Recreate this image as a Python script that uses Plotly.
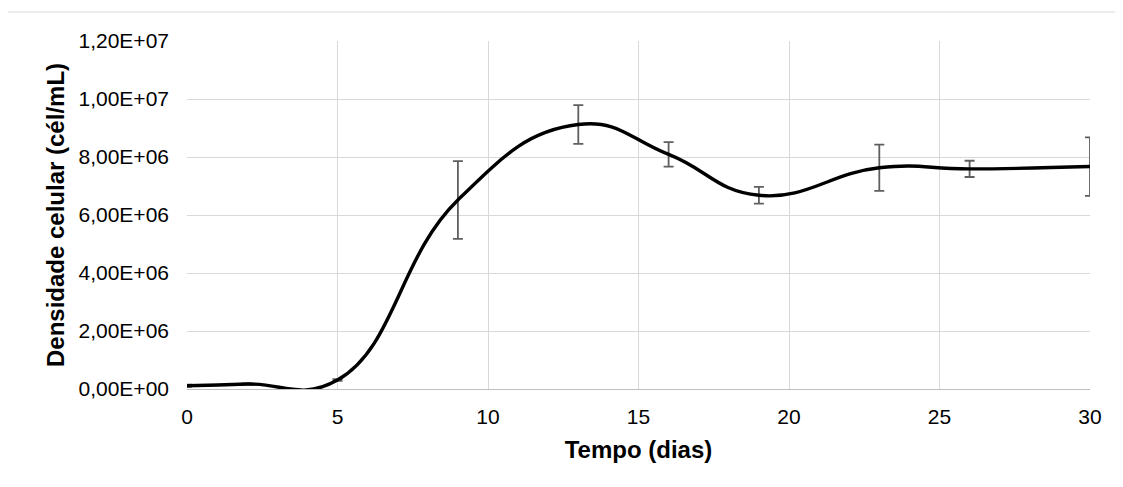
import plotly.graph_objects as go

# Data
days = [0, 2, 5, 9, 13, 16, 19, 23, 26, 30]
density = [1.1e5, 1.7e5, 3.1e5, 6.52e6, 9.12e6, 8.09e6, 6.68e6, 7.63e6, 7.59e6, 7.67e6]
density_err = [4e4, 2e4, 3e4, 1.34e6, 0.67e6, 0.42e6, 0.29e6, 0.80e6, 0.28e6, 1.01e6]

y_tickvals = [0, 2e6, 4e6, 6e6, 8e6, 1e7, 1.2e7]
y_ticktext = ["0,00E+00", "2,00E+06", "4,00E+06", "6,00E+06", "8,00E+06", "1,00E+07", "1,20E+07"]
x_tickvals = [0, 5, 10, 15, 20, 25, 30]

FONT = "Liberation Sans, Arial, sans-serif"
GRID = "#d9d9d9"

fig = go.Figure()

# error bars (drawn beneath the line)
fig.add_trace(go.Scatter(
    x=days, y=density, mode="markers",
    marker=dict(size=1, opacity=0),
    error_y=dict(type="data", array=density_err, visible=True,
                 color="#5f5f5f", thickness=1.8, width=5),
    showlegend=False, hoverinfo="skip",
))

# smoothed line
fig.add_trace(go.Scatter(
    x=days, y=density, mode="lines",
    line=dict(color="#000000", width=3.4, shape="spline", smoothing=1.3),
    showlegend=False,
))

# the page body has an 8px margin, compensated here
fig.update_layout(
    width=1123, height=487,
    paper_bgcolor="white", plot_bgcolor="white",
    margin=dict(l=179, r=41, t=33, b=106, autoexpand=False),
    font=dict(family=FONT, color="#000000"),
    showlegend=False,
    shapes=[dict(type="rect", xref="paper", yref="paper",
                 x0=-0.1993, x1=1.06, y0=-0.35, y1=1.0833,
                 line=dict(color="#d9d9d9", width=1.2), layer="below")],
)

fig.update_xaxes(
    range=[0, 30], tickvals=x_tickvals,
    showgrid=True, gridcolor=GRID, gridwidth=1.3,
    showline=True, linecolor="#bfbfbf", linewidth=1.3,
    zeroline=False, ticks="", ticklabelstandoff=9,
    tickfont=dict(size=21, family=FONT, color="#000000"),
    title=dict(text="<b>Tempo (dias)</b>", font=dict(size=24, family=FONT, color="#000000"), standoff=13),
    automargin=False,
)

fig.update_yaxes(
    range=[0, 1.2e7], tickvals=y_tickvals, ticktext=y_ticktext,
    showgrid=True, gridcolor=GRID, gridwidth=1.3,
    showline=False, zeroline=False, ticks="", ticklabelstandoff=17,
    tickfont=dict(size=21, family=FONT, color="#000000"),
    title=dict(text="<b>Densidade celular (cél/mL)</b>", font=dict(size=24, family=FONT, color="#000000"), standoff=7),
    automargin=False,
)

fig.write_html("out.html")
